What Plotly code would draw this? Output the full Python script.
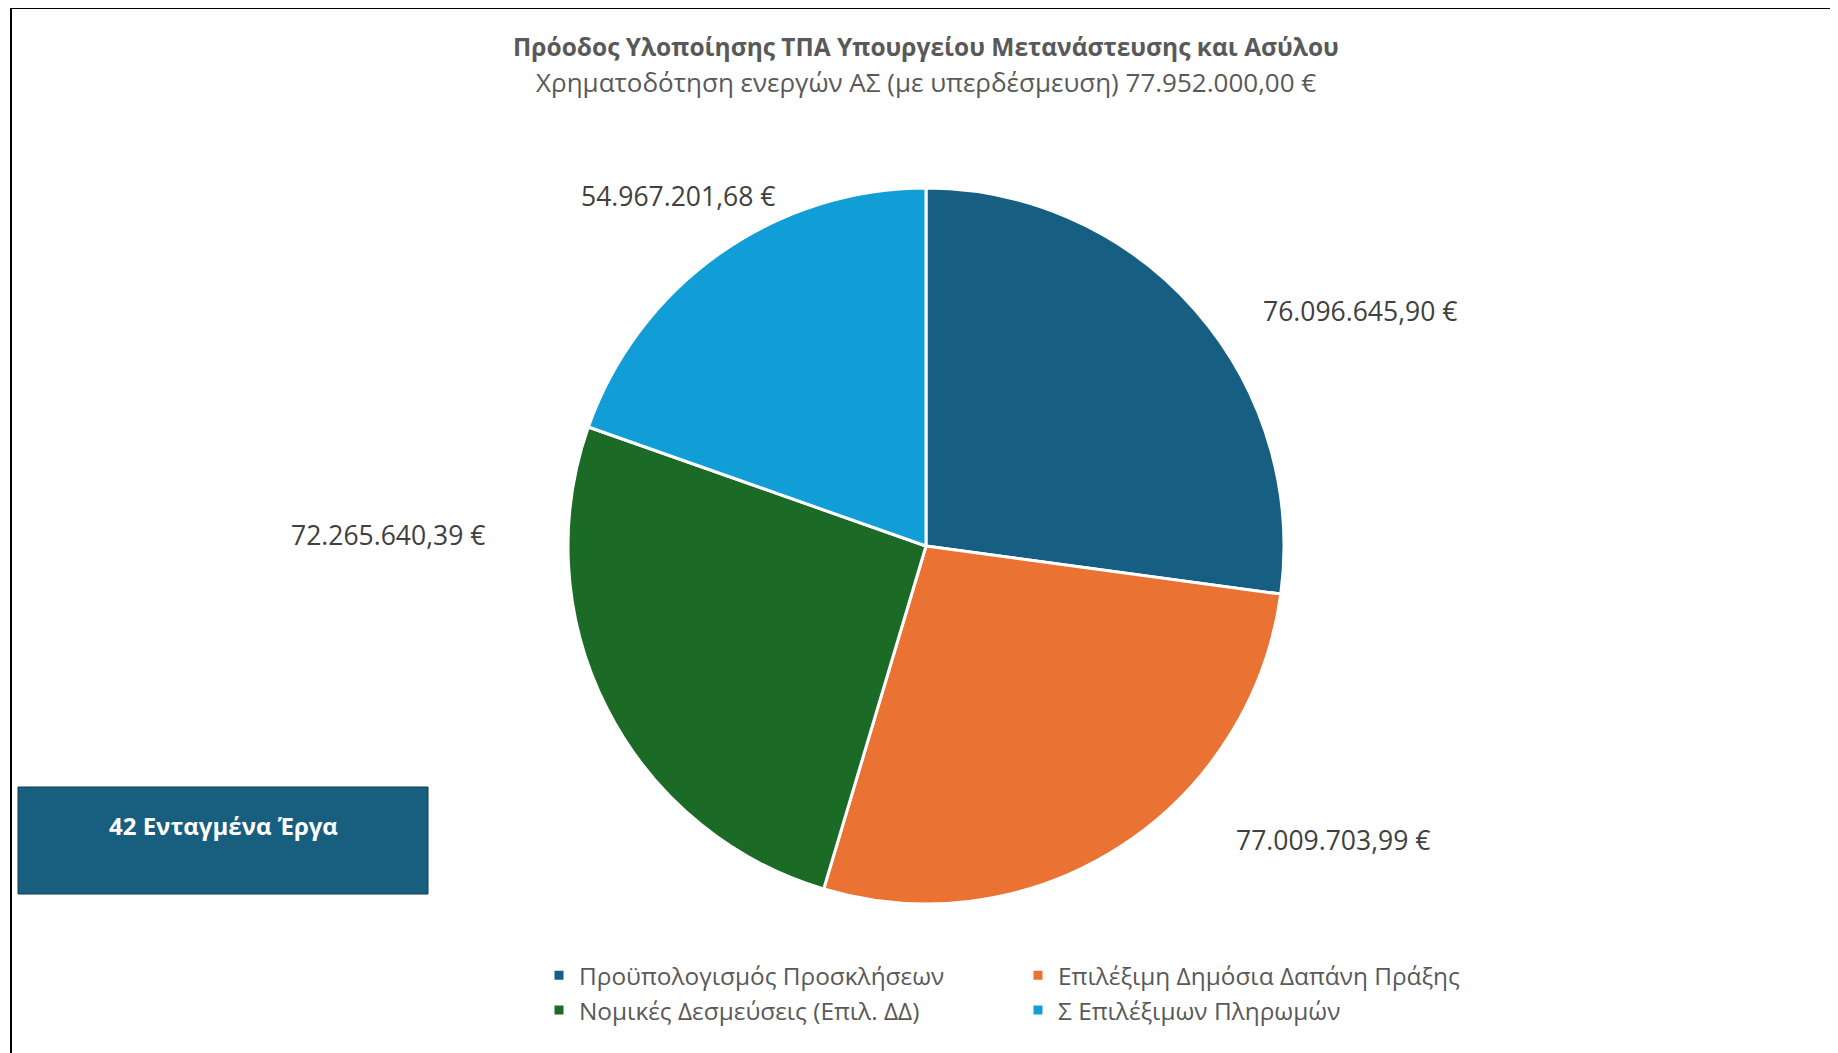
import plotly.graph_objects as go

categories = ["Προϋπολογισμός Προσκλήσεων", "Επιλέξιμη Δημόσια Δαπάνη Πράξης",
              "Νομικές Δεσμεύσεις (Επιλ. ΔΔ)", "Σ Επιλέξιμων Πληρωμών"]
values = [76096645.90, 77009703.99, 72265640.39, 54967201.68]
colors = ["#175F82", "#EA7233", "#1B6A26", "#119ED6"]
# label centres in page pixels
label_pos = [(1360, 311), (1333, 840), (388, 535), (678, 196)]


def eur(v):
    s = f"{v:,.2f}"
    s = s.replace(",", "X").replace(".", ",").replace("X", ".")
    return s + " €"


W, H = 1838, 1053
OFF = 8  # page body margin
ML, MR = 522, 316  # plot area margins (keeps legend to two columns)
GW = W - ML - MR


def px(x):
    return (x - OFF - ML) / GW


def py(y):
    return 1 - (y - OFF) / H


cx, cy, r = 926, 546, 358

fig = go.Figure(go.Pie(
    labels=categories, values=values, sort=False, direction="clockwise", rotation=0,
    marker=dict(colors=colors, line=dict(color="white", width=3)),
    textinfo="none", hoverinfo="label+value",
    domain=dict(x=[px(cx - r), px(cx + r)], y=[py(cy + r), py(cy - r)]),
))

annotations = []
for v, (x, y) in zip(values, label_pos):
    annotations.append(dict(x=px(x), y=py(y), xref="paper", yref="paper", text=eur(v), showarrow=False,
                            xanchor="center", yanchor="middle",
                            font=dict(family="Open Sans", size=26.5, color="#404040")))

annotations.append(dict(x=px(cx), y=py(82), xref="paper", yref="paper",
                        text="Χρηματοδότηση ενεργών ΑΣ (με υπερδέσμευση) 77.952.000,00 €",
                        showarrow=False, xanchor="center", yanchor="middle",
                        font=dict(family="Open Sans", size=26, color="#595959")))

annotations.append(dict(x=px(223), y=py(825), xref="paper", yref="paper",
                        text="<b>42 Ενταγμένα Έργα</b>", showarrow=False,
                        xanchor="center", yanchor="middle",
                        font=dict(family="Open Sans", size=24, color="white")))

shapes = [
    dict(type="rect", xref="paper", yref="paper", x0=px(18), x1=px(428), y0=py(894), y1=py(787),
         fillcolor="#175E7F", line=dict(color="#0E3D55", width=1), layer="below"),
    dict(type="line", xref="paper", yref="paper", x0=px(11), x1=px(W + 20), y0=py(8), y1=py(8),
         line=dict(color="black", width=2)),
    dict(type="line", xref="paper", yref="paper", x0=px(11), x1=px(11), y0=-0.01, y1=py(8),
         line=dict(color="black", width=2)),
]

fig.update_layout(
    width=W, height=H,
    margin=dict(l=ML, r=MR, t=0, b=0, autoexpand=False),
    paper_bgcolor="white", plot_bgcolor="white",
    title=dict(text="<b>Πρόοδος Υλοποίησης ΤΠΑ Υπουργείου Μετανάστευσης και Ασύλου</b>",
               xref="container", yref="container",
               x=(cx - OFF) / W, xanchor="center", y=py(47), yanchor="middle",
               font=dict(family="Open Sans", size=24.5, color="#595959")),
    annotations=annotations,
    shapes=shapes,
    showlegend=True,
    legend=dict(orientation="h", x=px(539), xanchor="left", y=py(953), yanchor="top",
                entrywidth=434, entrywidthmode="pixels",
                font=dict(family="Open Sans", size=24.4, color="#595959"),
                traceorder="normal"),
)

fig.write_html("out.html")
